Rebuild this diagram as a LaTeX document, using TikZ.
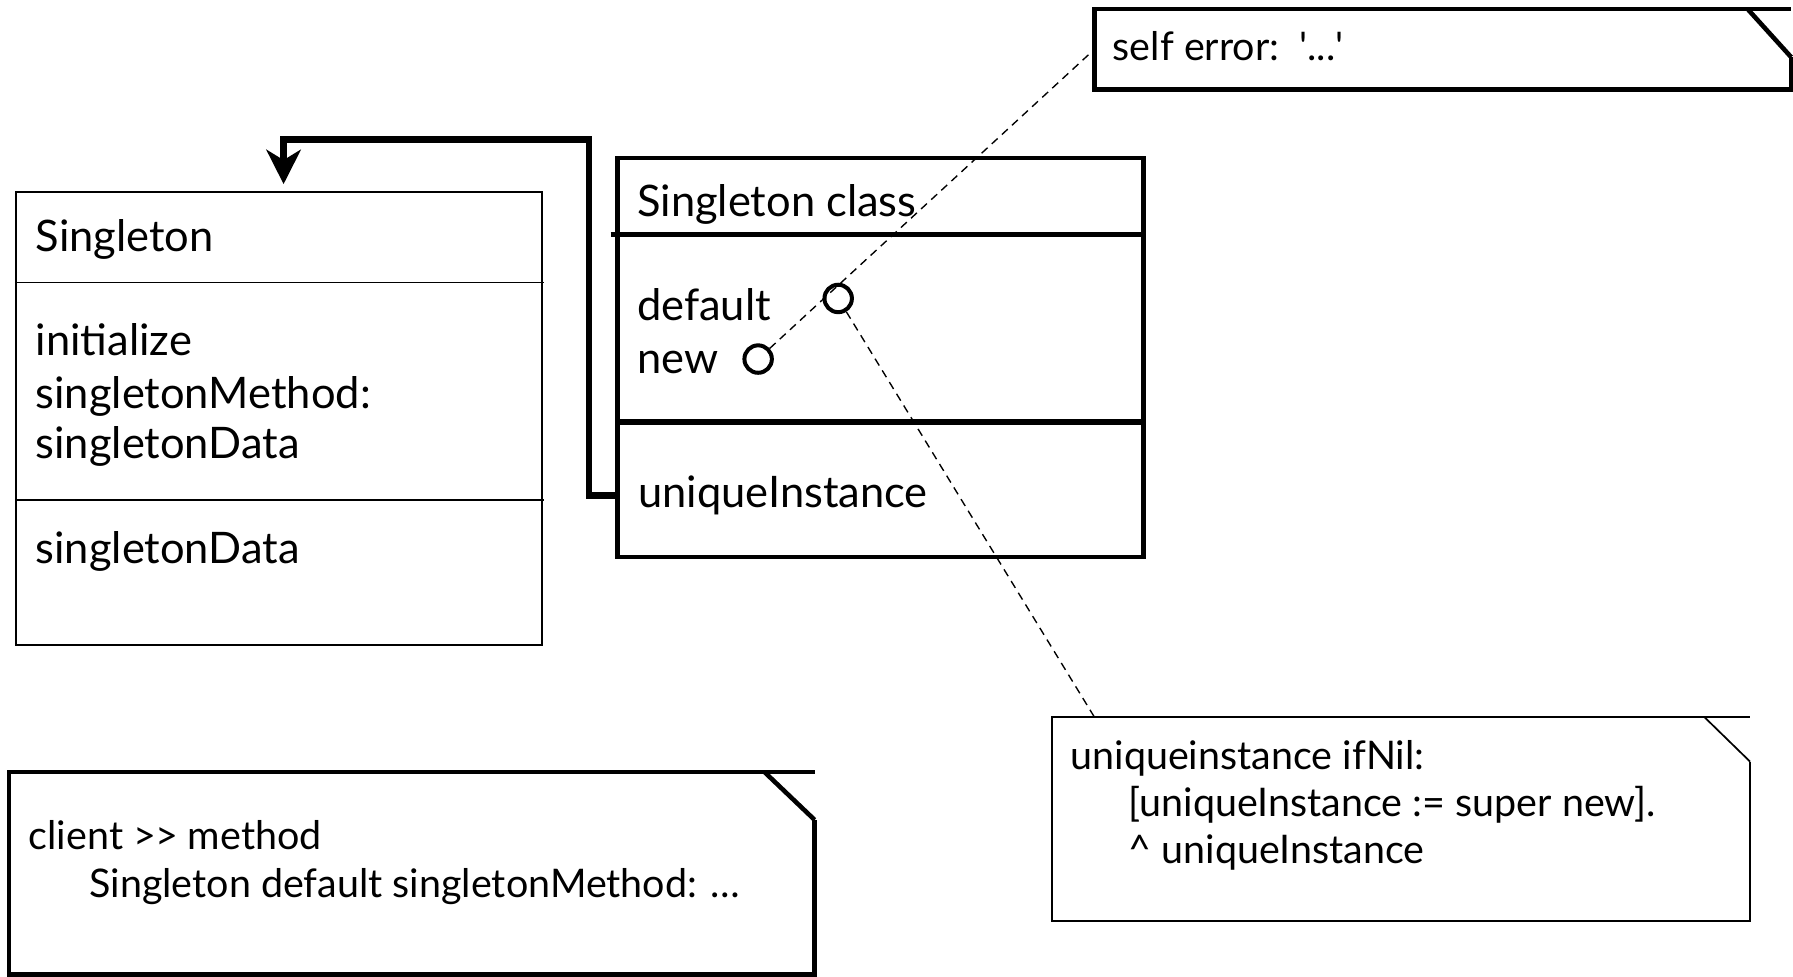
\documentclass[tikz,border=0pt]{standalone}
\usepackage{fontspec}
\setmainfont{Lato}
\usetikzlibrary{arrows.meta,calc}
\begin{document}
\begin{tikzpicture}[x=1pt,y=-1pt,
  txt/.style={inner sep=0pt, anchor=base west, font=\fontsize{38}{46}\selectfont},
  notetxt/.style={inner sep=0pt, anchor=base west, font=\fontsize{34.5}{40}\selectfont},
  frame/.style={inner sep=0pt, anchor=north west},
  thinline/.style={line width=1.5pt},
  thickline/.style={line width=4pt},
  port/.style={circle, draw, line width=3.5pt, minimum size=24pt, inner sep=0pt},
  link/.style={line width=1.2pt, dash pattern=on 7pt off 5pt},
  assoc/.style={line width=5.5pt, -{Stealth[length=30pt,width=30pt,inset=9pt]}},
]
\useasboundingbox (0,0) rectangle (1568,854);

% class Singleton
\node[frame, draw, thinline, minimum width=460pt, minimum height=396pt] (single) at (13,167) {};
\draw[thinline] (13,247) -- (476,247);
\draw[thinline] (13,437) -- (476,437);
\node[txt] (s-name) at (31,220) {Singleton};
\node[txt] (s-op1) at (31,311) {initialize};
\node[txt] (s-op2) at (31,357) {singletonMethod:};
\node[txt] (s-op3) at (31,401) {singletonData};
\node[txt] (s-attr) at (31,493) {singletonData};

% metaclass Singleton class
\node[frame, draw, thickline, minimum width=460pt, minimum height=349pt] (meta) at (538,136) {};
\draw[line width=5pt] (534,205) -- (998,205);
\draw[line width=5pt] (538,369) -- (1000,369);
\node[txt] (m-name) at (557,189) {Singleton class};
\node[txt] (m-op1) at (557,280) {default};
\node[txt] (m-op2) at (557,327) {new};
\node[txt] (m-attr) at (558,444) {uniqueInstance};
\node[port] (p-default) at (733,261) {};
\node[port] (p-new) at (663,314) {};

% note: self error
\node[frame, minimum width=609pt, minimum height=70pt] (errnote) at (957,8) {};
\draw[thickline] ($(errnote.north east)+(0,42)$) -- (errnote.south east) -- (errnote.south west)
  -- (errnote.north west) -- (errnote.north east);
\draw[thickline] ($(errnote.north east)+(-38,0)$) -- ($(errnote.north east)+(0,42)$);
\node[notetxt] (err-txt) at (973,53) {self error:\ \ \textquotesingle...\textquotesingle};

% note: uniqueInstance accessor
\node[frame, minimum width=610pt, minimum height=178pt] (uinote) at (920,627) {};
\draw[thinline] ($(uinote.north east)+(0,39)$) -- (uinote.south east) -- (uinote.south west)
  -- (uinote.north west) -- (uinote.north east);
\draw[thinline] ($(uinote.north east)+(-40,0)$) -- ($(uinote.north east)+(0,39)$);
\node[notetxt] (ui-l1) at (936,673) {uniqueinstance ifNil:};
\node[notetxt] (ui-l2) at (987,714) {[uniqueInstance := super new].};
\node[notetxt] (ui-l3) at (987,755) {\textasciicircum\ uniqueInstance};

% note: client code
\node[frame, minimum width=704pt, minimum height=177pt] (clnote) at (8,675) {};
\draw[thickline] ($(clnote.north east)+(0,42)$) -- (clnote.south east) -- (clnote.south west)
  -- (clnote.north west) -- (clnote.north east);
\draw[thickline] ($(clnote.north east)+(-44,0)$) -- ($(clnote.north east)+(0,42)$);
\node[notetxt] (cl-l1) at (25,743) {client >\kern-1pt> method};
\node[notetxt] (cl-l2) at (78,785) {Singleton default singletonMethod: …};

% dashed note anchors
\coordinate (ui-hook) at ($(uinote.north west)+(37,0)$);
\draw[link] (p-new) -- (errnote.west);
\draw[link] (p-default) -- (ui-hook);

% instance reference from uniqueInstance to Singleton
\coordinate (bend) at (515,122);
\coordinate (stop) at (248,161);
\draw[assoc] (meta.west |- m-attr) -| (bend) -| (stop);
\end{tikzpicture}
\end{document}
